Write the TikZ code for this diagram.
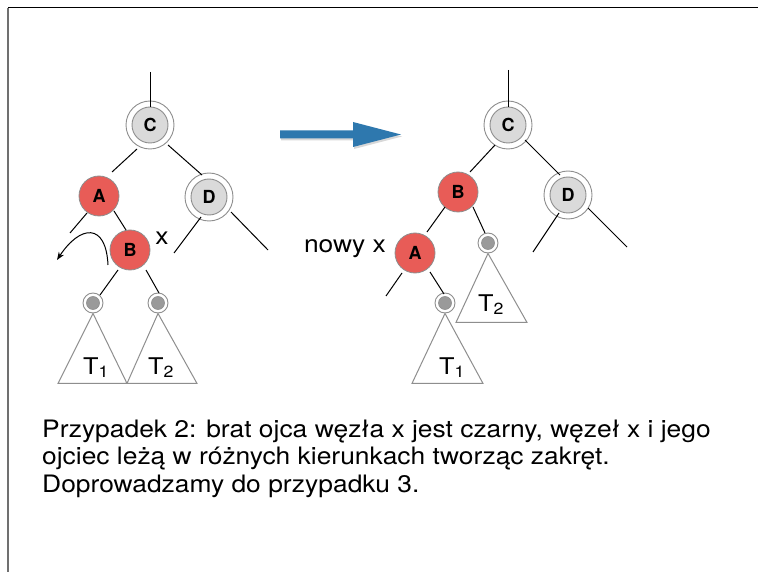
\documentclass[tikz,border=0pt]{standalone}
\usepackage{fontspec}
\setmainfont{TeX Gyre Heros}
\newfontfamily\bodyfont[FakeStretch=1.1]{TeX Gyre Heros}
\usetikzlibrary{arrows.meta,calc}
\definecolor{rbred}{HTML}{E85C57}
\definecolor{ringgray}{HTML}{8E8E8E}
\definecolor{innergray}{HTML}{DADADA}
\definecolor{nilgray}{HTML}{9A9A9A}
\definecolor{arrowblue}{HTML}{2E78AE}
\definecolor{framegray}{HTML}{707070}
\tikzset{
  ring/.style={circle, draw=ringgray, line width=0.9pt, fill=white, minimum size=48pt, inner sep=0pt},
  blacknode/.style={circle, draw=ringgray, line width=0.9pt, fill=innergray, minimum size=36pt, inner sep=0pt, font=\fontsize{18}{18}\selectfont\bfseries},
  rednode/.style={circle, draw=ringgray, line width=0.8pt, fill=rbred, minimum size=40pt, inner sep=0pt, font=\fontsize{18}{18}\selectfont\bfseries},
  nilring/.style={circle, draw=ringgray, line width=0.9pt, fill=white, minimum size=20pt, inner sep=0pt},
  nilnode/.style={circle, draw=ringgray, line width=0.6pt, fill=nilgray, minimum size=13pt, inner sep=0pt},
  edge/.style={line width=1pt, black},
  tri/.style={draw=ringgray, line width=1pt},
  lbl/.style={font=\bodyfont\fontsize{24}{24}\selectfont, anchor=base, inner sep=0pt},
  tlbl/.style={font=\bodyfont\fontsize{23}{23}\selectfont, anchor=base, inner sep=0pt},
  body/.style={font=\bodyfont\fontsize{24}{24}\selectfont, anchor=base west, inner sep=0pt},
}
\begin{document}
\begin{tikzpicture}[x=1pt,y=-1pt]
\useasboundingbox (0,0) rectangle (758,572);
\fill[white] (0,0) rectangle (758,572);
\draw[black, line width=1pt] (8,8) -- (758,8);
\draw[framegray, line width=1.4pt] (8,8) -- (8,572);

% ---------- left tree ----------
\node[ring] (LCr) at (150,125) {};
\node[blacknode] (LC) at (150,125) {C};
\node[rednode] (LA) at (99,196) {A};
\node[ring] (LDr) at (209,197) {};
\node[blacknode] (LD) at (209,197) {D};
\node[rednode] (LB) at (130,250) {B};
\node[nilring] (LN1r) at (93,303) {};
\node[nilnode] (LN1) at (93,303) {};
\node[nilring] (LN2r) at (158,303) {};
\node[nilnode] (LN2) at (158,303) {};
\coordinate (LCtop) at (150,72);

\draw[edge] (LCtop) -- (LC.north);
\draw[edge] ($(LC)+(-13,24)$) -- ($(LA)+(13,-24)$);
\draw[edge] ($(LC)+(18,20)$) -- ($(LD)+(-7,-22)$);
\draw[edge] ($(LA)+(-12,17)$) -- ($(LA)+(-29,37)$);
\draw[edge] ($(LA)+(15,15)$) -- ($(LB)+(-4,-20)$);
\draw[edge] ($(LD)+(-8,20)$) -- ($(LD)+(-35,56)$);
\draw[edge] ($(LD)+(22,15)$) -- ($(LD)+(59,53)$);
\draw[edge] ($(LB)+(-12,20)$) -- ($(LN1r)+(7,-8)$);
\draw[edge] ($(LB)+(16,20)$) -- ($(LN2r)+(1,-10)$);
\draw[edge, -{Stealth[length=8pt,width=6pt]}] ($(LB)+(-22,15)$) .. controls ($(LB)+(-24,-28)$) and ($(LB)+(-50,-25)$) .. ($(LB)+(-73,10)$);

\draw[tri] (LN1r.south) -- ($(LN1r.south)+(-35,70)$) -- ($(LN1r.south)+(34,70)$) -- cycle;
\draw[tri] (LN2r.south) -- ($(LN2r.south)+(-31,70)$) -- ($(LN2r.south)+(39,70)$) -- cycle;
\node[tlbl] (LT1) at (96,374) {T\textsubscript{1}};
\node[tlbl] (LT2) at (161,374) {T\textsubscript{2}};
\node[lbl] (Lx) at (162,245) {x};

% ---------- arrow ----------
\fill[black!30, opacity=0.5] (281,132.5) -- (354,132.5) -- (354,124) -- (402,136.5) -- (354,149) -- (354,140.5) -- (281,140.5) -- cycle;
\fill[arrowblue] (280,130.5) -- (353,130.5) -- (353,122) -- (401,134.5) -- (353,147) -- (353,138.5) -- (280,138.5) -- cycle;

% ---------- right tree ----------
\node[ring] (RCr) at (508,125) {};
\node[blacknode] (RC) at (508,125) {C};
\node[rednode] (RB) at (458,192) {B};
\node[ring] (RDr) at (568,195) {};
\node[blacknode] (RD) at (568,195) {D};
\node[rednode] (RA) at (415,253) {A};
\node[nilring] (RN3r) at (488,243) {};
\node[nilnode] (RN3) at (488,243) {};
\node[nilring] (RN4r) at (445,303) {};
\node[nilnode] (RN4) at (445,303) {};
\coordinate (RCtop) at (508,70);

\draw[edge] (RCtop) -- (RC.north);
\draw[edge] ($(RC)+(-13,20)$) -- ($(RB)+(12,-20)$);
\draw[edge] ($(RC)+(17,15)$) -- ($(RD)+(-8,-20)$);
\draw[edge] ($(RB)+(-13,15)$) -- ($(RA)+(12,-21)$);
\draw[edge] ($(RB)+(15,15)$) -- ($(RN3r)+(-3,-10)$);
\draw[edge] ($(RA)+(-13,20)$) -- ($(RA)+(-29,43)$);
\draw[edge] ($(RA)+(15,19)$) -- ($(RN4r)+(-1,-9)$);
\draw[edge] ($(RD)+(-9,18)$) -- ($(RD)+(-35,57)$);
\draw[edge] ($(RD)+(20,13)$) -- ($(RD)+(59,52)$);

\draw[tri] (RN3r.south) -- ($(RN3r.south)+(-32,69)$) -- ($(RN3r.south)+(39,69)$) -- cycle;
\draw[tri] (RN4r.south) -- ($(RN4r.south)+(-33,70)$) -- ($(RN4r.south)+(38,70)$) -- cycle;
\node[tlbl] (RT2) at (491,311) {T\textsubscript{2}};
\node[tlbl] (RT1) at (452,374) {T\textsubscript{1}};
\node[lbl] (Rx) at (345,253) {nowy x};

% ---------- caption ----------
\node[body] (t1) at (42,437) {Przypadek 2: brat ojca węzła x jest czarny, węzeł x i jego};
\node[body] (t2) at (42,464.5) {ojciec leżą w różnych kierunkach tworząc zakręt.};
\node[body] (t3) at (42,492) {Doprowadzamy do przypadku 3.};
\end{tikzpicture}
\end{document}
